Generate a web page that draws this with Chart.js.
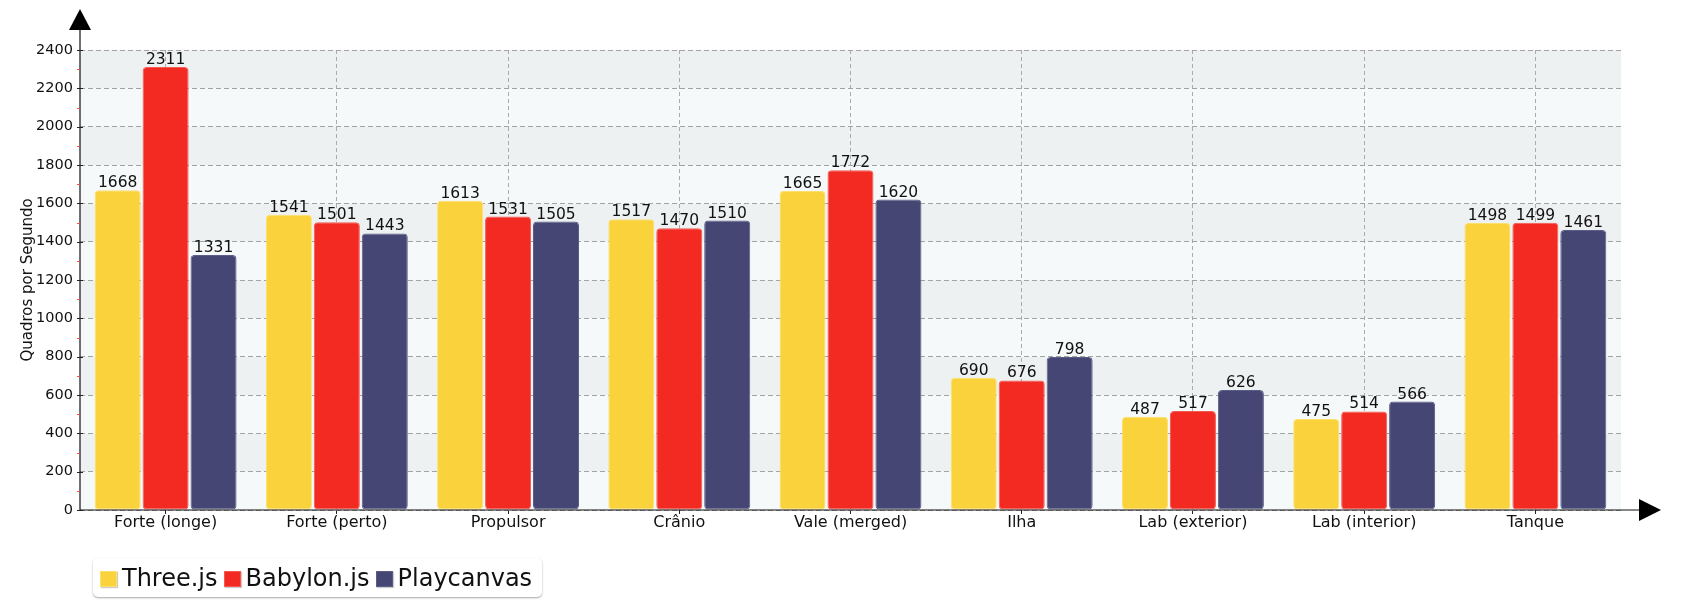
<!DOCTYPE html>
<html>
<head>
<meta charset="utf-8">
<script src="https://cdn.jsdelivr.net/npm/chart.js@4.4.0/dist/chart.umd.min.js"></script>
<style>
body { margin: 0; background: #fff; }
#wrap { position: relative; width: 1700px; height: 600px; }
#legend {
    position: absolute; left: 93px; top: 558px; height: 39px; padding: 0 10px 0 7px;
    display: flex; align-items: center; border-radius: 5px; background: #fff;
    box-shadow: 0 1px 2px rgba(0,0,0,0.35);
    font-family: "DejaVu Sans", sans-serif; font-size: 24px; color: #111;
}
#legend .item { display: flex; align-items: center; margin-right: 6px; }
#legend .item:last-child { margin-right: 0; }
#legend .swatch { width: 17px; height: 16px; margin-right: 5px; margin-top: 3px; box-sizing: border-box; border: 1px solid; box-shadow: 1px 1px 1px rgba(0,0,0,0.2); }
</style>
</head>
<body>
<div id="wrap">
    <canvas id="fps-chart" width="1700" height="600"></canvas>
    <div id="legend"></div>
</div>
<script>
// ==================================== DATA ====================================
const categories = ['Forte (longe)', 'Forte (perto)', 'Propulsor', 'Crânio', 'Vale (merged)', 'Ilha', 'Lab (exterior)', 'Lab (interior)', 'Tanque'];
const seriesNames = ['Three.js', 'Babylon.js', 'Playcanvas'];
const threeData = [1668, 1541, 1613, 1517, 1665, 690, 487, 475, 1498];
const babylonData = [2311, 1501, 1531, 1470, 1772, 676, 517, 514, 1499];
const playcanvasData = [1331, 1443, 1505, 1510, 1620, 798, 626, 566, 1461];
const yMin = 0;
const yMax = 2400;
const yStep = 200;

const FONT = '"DejaVu Sans", sans-serif';
const fillColors = ['#f9d23c', '#f22a22', '#454673'];
const edgeColors = ['#fde06a', '#f55a52', '#5b5c88'];

// Alternating horizontal bands behind the grid
const bandsPlugin = {
    id: 'bands',
    beforeDraw(chart) {
        const {ctx, chartArea: {left, right}, scales: {y}} = chart;
        const ticks = y.ticks;
        ctx.save();
        for (let i = 0; i < ticks.length - 1; i++) {
            const bottom = y.getPixelForValue(ticks[i].value);
            const top = y.getPixelForValue(ticks[i + 1].value);
            const k = ticks.length - 2 - i;
            ctx.fillStyle = k % 2 === 0 ? '#eef1f2' : '#f6f9f9';
            ctx.fillRect(left, top, right - left, bottom - top);
        }
        ctx.restore();
    }
};

// Axis lines with arrow heads, major and minor ticks on the y axis
const axesPlugin = {
    id: 'axes',
    afterDraw(chart) {
        const {ctx, chartArea: {left, right, top, bottom}, scales: {y}} = chart;
        ctx.save();
        ctx.strokeStyle = '#111';
        ctx.lineWidth = 1.2;
        ctx.beginPath();
        ctx.moveTo(left, 28); ctx.lineTo(left, bottom);
        ctx.lineTo(right + 20, bottom);
        ctx.stroke();

        ctx.fillStyle = '#000';
        ctx.beginPath();
        ctx.moveTo(left, 9); ctx.lineTo(left - 11, 30); ctx.lineTo(left + 11, 30);
        ctx.closePath(); ctx.fill();
        ctx.beginPath();
        ctx.moveTo(right + 40, bottom); ctx.lineTo(right + 18, bottom - 11); ctx.lineTo(right + 18, bottom + 11);
        ctx.closePath(); ctx.fill();

        const ticks = y.ticks;
        ctx.lineWidth = 1;
        ctx.strokeStyle = '#222';
        ticks.forEach(t => {
            const py = Math.round(y.getPixelForValue(t.value)) + 0.5;
            ctx.beginPath(); ctx.moveTo(left - 3, py); ctx.lineTo(left + 3, py); ctx.stroke();
        });
        ctx.strokeStyle = '#f25050';
        for (let i = 0; i < ticks.length - 1; i++) {
            const mid = (ticks[i].value + ticks[i + 1].value) / 2;
            const py = Math.round(y.getPixelForValue(mid)) + 0.5;
            ctx.beginPath(); ctx.moveTo(left - 3, py); ctx.lineTo(left, py); ctx.stroke();
        }
        ctx.restore();
    }
};

// Value labels on top of every bar
const valueLabelsPlugin = {
    id: 'valueLabels',
    afterDatasetsDraw(chart) {
        const {ctx} = chart;
        ctx.save();
        ctx.font = '15.5px ' + FONT;
        ctx.fillStyle = '#111';
        ctx.textAlign = 'center';
        ctx.textBaseline = 'alphabetic';
        chart.data.datasets.forEach((ds, di) => {
            chart.getDatasetMeta(di).data.forEach((bar, i) => {
                ctx.fillText(String(ds.data[i]), bar.x, bar.y - 3);
            });
        });
        ctx.restore();
    }
};

function makeFpsChart() {
    const context = document.querySelector('#fps-chart').getContext('2d');
    const allSeries = [threeData, babylonData, playcanvasData];
    const datasets = allSeries.map((values, i) => ({
        label: seriesNames[i],
        data: values,
        backgroundColor: fillColors[i],
        borderColor: edgeColors[i],
        borderWidth: 1,
        borderRadius: 4,
        borderSkipped: false,
        categoryPercentage: 0.84,
        barPercentage: 0.96
    }));

    const chartOptions = {
        responsive: false,
        animation: false,
        devicePixelRatio: 1,
        layout: { padding: { top: 50, right: 79, left: 0, bottom: 0 } },
        scales: {
            x: {
                grid: { offset: false, color: '#ababab', tickColor: '#222', tickLength: 4, tickWidth: 1, tickBorderDash: [] },
                border: { display: false, dash: [4, 3] },
                ticks: { font: { family: FONT, size: 16 }, color: '#111', padding: -1, maxRotation: 0 },
                afterFit: scale => { scale.height = 90; }
            },
            y: {
                min: yMin,
                max: yMax,
                ticks: {
                    stepSize: yStep,
                    font: { family: FONT, size: 14.5 },
                    color: '#111',
                    padding: 7,
                    callback: value => String(value)
                },
                grid: { color: '#a3a3a3', drawTicks: false },
                border: { display: false, dash: [5, 3] },
                title: {
                    display: true,
                    text: 'Quadros por Segundo',
                    font: { family: FONT, size: 15 },
                    color: '#111',
                    padding: { top: 19, bottom: 0 }
                },
                afterFit: scale => { scale.width = 80; }
            }
        },
        plugins: {
            legend: { display: false },
            tooltip: { enabled: false }
        }
    };

    new Chart(context, {
        type: 'bar',
        data: { labels: categories, datasets: datasets },
        options: chartOptions,
        plugins: [bandsPlugin, axesPlugin, valueLabelsPlugin]
    });

    // html legend built from the series names
    const legend = document.querySelector('#legend');
    seriesNames.forEach((name, i) => {
        const item = document.createElement('div');
        item.className = 'item';
        const sw = document.createElement('span');
        sw.className = 'swatch';
        sw.style.background = fillColors[i];
        sw.style.borderColor = edgeColors[i];
        const txt = document.createElement('span');
        txt.textContent = name;
        item.appendChild(sw);
        item.appendChild(txt);
        legend.appendChild(item);
    });
}

makeFpsChart();
</script>
</body>
</html>
